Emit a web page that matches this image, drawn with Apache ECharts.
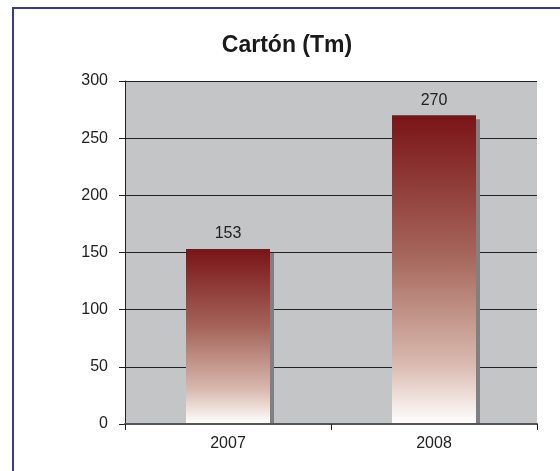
<!DOCTYPE html>
<html>
<head>
<meta charset="utf-8">
<script src="https://cdn.jsdelivr.net/npm/echarts@6/dist/echarts.min.js"></script>
<style>
  html, body { margin: 0; padding: 0; background: #fff; }
  #chart { width: 560px; height: 471px; }
</style>
</head>
<body>
<div id="chart"></div>
<script>
var years = ['2007', '2008'];
var tons = [153, 270];

var initBar = function () {
    var chart = echarts.init(document.getElementById('chart'));
    var font = '"Liberation Sans", Arial, sans-serif';
    var option = {
        animation: false,
        title: {
            text: 'Cartón (Tm)',
            left: 282,
            top: 29,
            textAlign: 'center',
            textStyle: { fontFamily: font, fontSize: 23, fontWeight: 'bold', color: '#1a1a1a' }
        },
        graphic: [{
            type: 'rect',
            shape: { x: 13, y: 8, width: 600, height: 500 },
            style: { fill: null, stroke: '#3b3b8c', lineWidth: 2 },
            silent: true
        }, {
            // hide the part of the bar shadow that falls under the baseline
            type: 'rect',
            z: 3,
            shape: { x: 126, y: 425, width: 420, height: 6 },
            style: { fill: '#ffffff' },
            silent: true
        }],
        grid: {
            left: 125, right: 23, top: 81, bottom: 47,
            show: true,
            backgroundColor: '#c4c5c7',
            borderWidth: 0
        },
        xAxis: {
            type: 'category',
            data: years,
            axisLine: { lineStyle: { color: '#555', width: 2 } },
            axisTick: { show: true, length: 6, lineStyle: { color: '#222' } },
            axisLabel: { fontFamily: font, fontSize: 16, color: '#222', margin: 12 },
            z: 5
        },
        yAxis: {
            type: 'value',
            min: 0, max: 300, interval: 50,
            axisLine: { show: true, lineStyle: { color: '#222' } },
            axisTick: { show: true, length: 6, lineStyle: { color: '#222' } },
            axisLabel: { fontFamily: font, fontSize: 16, color: '#222', margin: 17 },
            splitLine: { lineStyle: { color: '#222', width: 1 } }
        },
        series: [{
            name: 'Cartón',
            type: 'bar',
            data: tons,
            barWidth: 84,
            itemStyle: {
                color: new echarts.graphic.LinearGradient(0, 0, 0, 1, [
                    { offset: 0, color: '#7a1416' },
                    { offset: 0.45, color: '#a5655a' },
                    { offset: 0.8, color: '#d8b8ad' },
                    { offset: 1, color: '#ffffff' }
                ]),
                shadowColor: '#7f8084',
                shadowOffsetX: 4,
                shadowOffsetY: 4,
                shadowBlur: 0
            },
            label: {
                show: true,
                position: 'top',
                distance: 7,
                fontFamily: font,
                fontSize: 16,
                color: '#222'
            }
        }]
    };
    chart.setOption(option);
};
initBar();
</script>
</body>
</html>
